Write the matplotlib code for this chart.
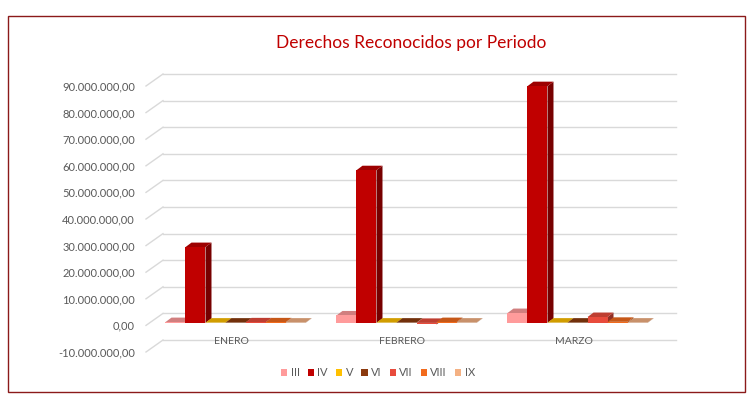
import matplotlib
matplotlib.use("Agg")
import matplotlib.pyplot as plt
from matplotlib.patches import Patch, Polygon, Rectangle
from matplotlib.colors import to_rgb

plt.rcParams['font.family'] = ['Lato', 'DejaVu Sans']

# data
months = ['ENERO', 'FEBRERO', 'MARZO']
series = ['III', 'IV', 'V', 'VI', 'VII', 'VIII', 'IX']
values = {
    'III':  [0.3e6, 2.8e6, 3.7e6],
    'IV':   [28.5e6, 57.4e6, 89.0e6],
    'V':    [0.1e6, 0.1e6, 0.1e6],
    'VI':   [0.1e6, 0.1e6, 0.1e6],
    'VII':  [0.2e6, -0.6e6, 2.2e6],
    'VIII': [0.2e6, 0.3e6, 0.4e6],
    'IX':   [0.1e6, 0.1e6, 0.1e6],
}
colors = ['#FF9B9B', '#C00000', '#FFC000', '#8B3A0E', '#E84B3C', '#F26B1D', '#F4B183']
yticks = [-10e6 + 10e6 * i for i in range(11)]

W, H = 756, 416
fig = plt.figure(figsize=(W / 100, H / 100), dpi=100)
ax = fig.add_axes([146 / W, 1 - 352 / H, 513 / W, 266 / H])
ax.set_xlim(-0.5, len(months) - 0.5)
ax.set_ylim(-10e6, 90e6)
for s in ax.spines.values():
    s.set_visible(False)

# pixel -> data helpers (axes size is fixed)
px_x = (ax.get_xlim()[1] - ax.get_xlim()[0]) / 513
px_y = (ax.get_ylim()[1] - ax.get_ylim()[0]) / 266
fdx, fdy = 17 * px_x, 12 * px_y      # floor / wall depth
bx, by = 4 * px_x, 2.5 * px_y        # bar front offset from front plane
ddx, ddy = 6 * px_x, 4.5 * px_y      # bar depth

grid_c = '#D9D9D9'
x0, x1 = ax.get_xlim()
for v in yticks:
    ax.plot([x0 + fdx, x1 + fdx], [v + fdy, v + fdy], color=grid_c, lw=1, clip_on=False, zorder=0)
    ax.plot([x0, x0 + fdx], [v, v + fdy], color=grid_c, lw=1, clip_on=False, zorder=0)

def shade(c, f):
    r, g, b = to_rgb(c)
    return (r * f, g * f, b * f)

bw = 0.117
for m in range(len(months)):
    for i, name in enumerate(series):
        v = values[name][m]
        c = colors[i]
        left = m + (i - 3) * bw - bw / 2 + bx
        right = left + bw
        lo, hi = min(v, 0) + by, max(v, 0) + by
        side = [(right, lo), (right, hi), (right + ddx, hi + ddy), (right + ddx, lo + ddy)]
        top = [(left, hi), (right, hi), (right + ddx, hi + ddy), (left + ddx, hi + ddy)]
        ax.add_patch(Polygon(side, closed=True, fc=shade(c, 0.62), ec='none', zorder=2, clip_on=False))
        ax.add_patch(Polygon(top, closed=True, fc=shade(c, 0.82), ec='none', zorder=2, clip_on=False))
        ax.add_patch(Rectangle((left, lo), bw, hi - lo, fc=c, ec='none', zorder=2, clip_on=False))

ax.set_xticks([])
ax.set_yticks(yticks)
ax.set_yticklabels([f"{v:,.2f}".replace(',', 'X').replace('.', ',').replace('X', '.') for v in yticks])
ax.tick_params(axis='y', length=0, pad=8, labelsize=8, labelcolor='#595959')

for m, name in enumerate(months):
    ax.text(m, 0.041, name, transform=ax.get_xaxis_transform(), ha='center', va='center',
            fontsize=7.5, color='#595959')

fig.text(411 / W, 1 - 43 / H, 'Derechos Reconocidos por Periodo', ha='center', va='center',
         fontsize=12.5, color='#C00000')

handles = [Patch(fc=c, ec='none') for c in colors]
fig.legend(handles, series, loc='center', bbox_to_anchor=(378 / W, 1 - 373 / H), ncol=7,
           frameon=False, handlelength=0.55, handleheight=0.55, handletextpad=0.3,
           columnspacing=0.75, fontsize=8, labelcolor='#595959')

fig.patches.append(Rectangle((8 / W, 1 - 392 / H), 737 / W, 376 / H, transform=fig.transFigure,
                             fill=False, ec='#8B1A1A', lw=1))

fig.savefig('out.png', dpi=100)
